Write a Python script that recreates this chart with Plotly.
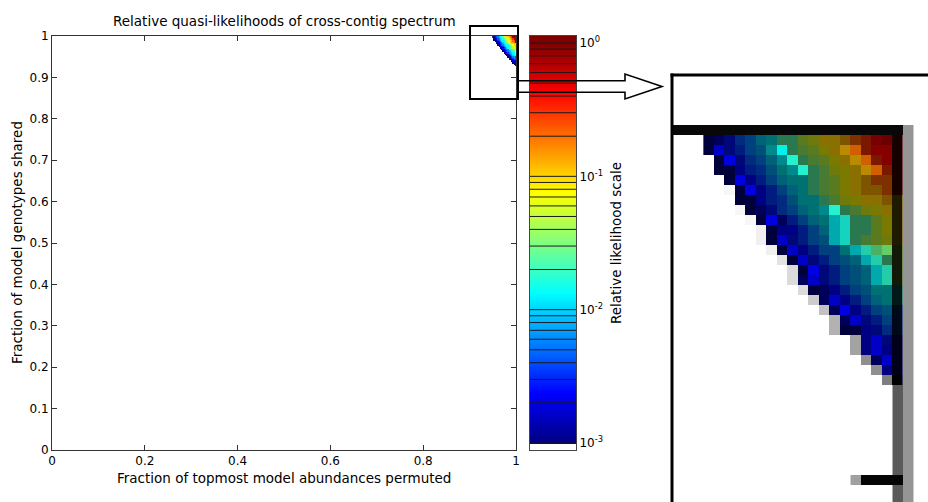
import numpy as np
import plotly.graph_objects as go

W, H = 928, 502

# ---------------- data ----------------
# centres of the likelihood grid cells
x_cells = [0.95005, 0.95275, 0.95545, 0.95815, 0.96085, 0.96355, 0.96625, 0.96895,
           0.97165, 0.97435, 0.97705, 0.97975, 0.98245, 0.98515, 0.98785, 0.99055,
           0.99325, 0.99595, 0.99865]
y_cells = [0.99855, 0.99565, 0.99275, 0.98985, 0.98695, 0.98405, 0.98115, 0.97825,
           0.97535, 0.97245, 0.96955, 0.96665, 0.96375, 0.96085, 0.95795, 0.95505,
           0.95215, 0.94925, 0.94635, 0.94345, 0.94055, 0.93765, 0.93475, 0.93185,
           0.92895]

# cell classes: log10 relative likelihood
LOG_LIKELIHOOD = {
    'a': -2.99, 'b': -2.99, 'B': -2.99, 'c': -2.58, 'd': -2.46, 'e': -2.37,
    'f': -2.25, 'g': -2.13, 'h': -2.01, 'i': -1.89, 'j': -1.62, 'k': -1.425,
    'l': -1.32, 'm': -1.20, 'n': -1.125, 'o': -0.984, 'p': -0.87, 'q': -0.66,
    'r': -0.525, 's': -0.15, 'u': 0.0, 'v': 0.0,
    'A': -2.79, 'C': -2.70, 'D': -1.89, 'E': -1.89, 'F': -1.86, 'G': -1.77,
    'H': -1.80, 'I': -1.74, 'J': -1.56, 'K': -1.50, 'L': -0.93, 'M': -0.72,
    'x': -0.15, 'y': -0.99, 'z': -1.35, 'w': -1.80, 'X': -2.34, 'Y': -2.85, 'Z': -2.99,
}
# darkening of each magnified pixel (contour lines / axis line / antialiasing)
PIXEL_SHADE = {
    'a': 0.55, 'b': 0.30, 'B': 0.0, 'c': 0.53, 'd': 0.50, 'e': 0.50, 'f': 0.50,
    'g': 0.53, 'h': 0.53, 'i': 0.55, 'j': 0.53, 'k': 0.52, 'l': 0.52, 'm': 0.52,
    'n': 0.52, 'o': 0.46, 'p': 0.50, 'q': 0.50, 'r': 0.52, 's': 0.25, 'u': 0.05,
    'v': 0.17, 'A': 0.0, 'C': 0.02, 'D': 0.45, 'E': 0.32, 'F': 0.05, 'G': 0.05,
    'H': 0.17, 'I': 0.20, 'J': 0.30, 'K': 0.20, 'L': 0.27, 'M': 0.18,
    'x': 0.88, 'y': 0.88, 'z': 0.90, 'w': 0.90, 'X': 0.90, 'Y': 0.85, 'Z': 1.0,
    '1': 0.03, '2': 0.06, '3': 0.11, '4': 0.14, '5': 0.20, '6': 0.24, '7': 0.30,
    '8': 0.36, '9': 0.44, '0': 0.50,
}
grid_rows = [
    "abcefhijjlmoopqruvx",
    "aAcdfgDFjklnoLMrssx",
    ".aCcefhDGjklnoLMrsx",
    ".aaBdegiDGjkmnoLMrx",
    "..aCBdfhiijklnopqqx",
    "..1aCBdfhijklnoppqx",
    "...aaBdegiijkmnoopy",
    "...1abcefhiDGjkmnoy",
    "....1aCbdfhiEHjjlny",
    ".....2aBBdfhEHjjlny",
    ".....2aAcdfgEHjklmy",
    "......2aABdffiEIJKz",
    ".......3aAcdfghEIjz",
    "........4aCcdfghEIz",
    "........4bAcdfghEIz",
    ".........4abBdfgiiw",
    "..........5bABdfhiw",
    "...........6bCBdfgX",
    "............7bAcdfX",
    "............7aaBceX",
    "..............8BAcY",
    "..............8BABY",
    "...............9bAY",
    "................9BY",
    ".................0Z",
]

x_ticks = [0, 0.2, 0.4, 0.6, 0.8, 1]
x_tick_labels = ["0", "0.2", "0.4", "0.6", "0.8", "1"]
y_ticks = [0, 0.1, 0.2, 0.3, 0.4, 0.5, 0.6, 0.7, 0.8, 0.9, 1]
y_tick_labels = ["0", "0.1", "0.2", "0.3", "0.4", "0.5", "0.6", "0.7", "0.8", "0.9", "1"]
cbar_levels = [0.001, 0.002, 0.003, 0.004, 0.005, 0.006, 0.007, 0.008, 0.009,
               0.01, 0.02, 0.03, 0.04, 0.05, 0.06, 0.07, 0.08, 0.09,
               0.1, 0.2, 0.3, 0.4, 0.5, 0.6, 0.7, 0.8, 0.9, 1.0]
cbar_ticks = [-3, -2, -1, 0]
cbar_tick_labels = ["10<sup>-3</sup>", "10<sup>-2</sup>", "10<sup>-1</sup>", "10<sup>0</sup>"]

title_text = "Relative quasi-likelihoods of cross-contig spectrum"
xlabel_text = "Fraction of topmost model abundances permuted"
ylabel_text = "Fraction of model genotypes shared"
cbar_label_text = "Relative likelihood scale"

# ---------------- geometry / style ----------------
MAIN = dict(l=52, t=36, r=516, b=450)
CB = dict(l=530, t=36, r=576, b=450)
INSET = dict(l=672, t=75, r=928, b=502)
INSET_XR = [0.9406, 1.00643]
INSET_YR = [0.89362, 1.01739]
DX, DY = 0.0027, 0.0029
ZLO, ZHI = -3.0525, 0.0525
ZOOM_BOX = (0.9009, 0.8478, 1.0043, 1.0242)
FONT = "DejaVu Sans"
AX_COL = "#333333"


def px(x):
    return x / W


def py(y):
    return 1 - y / H


def main_to_paper(x, y):
    return px(MAIN['l'] + x * (MAIN['r'] - MAIN['l'])), py(MAIN['b'] - y * (MAIN['b'] - MAIN['t']))


# MATLAB-like jet, mapped on the [ZLO, ZHI] range, white below 1e-3
jet = [(0.0, (0, 0, 128)), (0.125, (0, 0, 255)), (0.375, (0, 255, 255)),
       (0.625, (255, 255, 0)), (0.875, (255, 0, 0)), (1.0, (128, 0, 0))]


def u(z):
    return (z - ZLO) / (ZHI - ZLO)


cscale = [[0, 'white'], [u(-3.006), 'white'], [u(-3.006), 'rgb(0,0,128)']]
for t, (r, g, b) in jet:
    cscale.append([u(-3 + 3 * t), f'rgb({r},{g},{b})'])
cscale.append([1, 'rgb(128,0,0)'])

# matrices (ascending y)
z_rows, s_rows = [], []
for row in grid_rows:
    z_rows.append([LOG_LIKELIHOOD[ch] if ch in LOG_LIKELIHOOD else np.nan for ch in row])
    s_rows.append([PIXEL_SHADE.get(ch, np.nan) for ch in row])
z_asc = z_rows[::-1]
s_asc = s_rows[::-1]
y_asc = y_cells[::-1]

fig = go.Figure()

# main heatmap
fig.add_trace(go.Heatmap(x=x_cells, y=y_asc, z=z_asc, colorscale=cscale, zmin=ZLO, zmax=ZHI,
                         showscale=False, hoverinfo='skip', xaxis='x', yaxis='y'))
# magnified inset
fig.add_trace(go.Heatmap(x=x_cells, y=y_asc, z=z_asc, colorscale=cscale, zmin=ZLO, zmax=ZHI,
                         showscale=False, hoverinfo='skip', xaxis='x2', yaxis='y2'))
fig.add_trace(go.Heatmap(x=x_cells, y=y_asc, z=s_asc,
                         colorscale=[[0, 'rgba(0,0,0,0)'], [1, 'rgba(0,0,0,1)']],
                         zmin=0, zmax=1, showscale=False, hoverinfo='skip', xaxis='x2', yaxis='y2'))

# colour bar as its own small axes
cb_y = np.linspace(ZLO, ZHI, 622)
fig.add_trace(go.Heatmap(x=[0], y=cb_y, z=[[v] for v in cb_y], colorscale=cscale, zmin=ZLO, zmax=ZHI,
                         showscale=False, hoverinfo='skip', xaxis='x3', yaxis='y3'))
lx, ly = [], []
for lev in cbar_levels:
    lx += [-0.5, 0.5, None]
    ly += [np.log10(lev), np.log10(lev), None]
fig.add_trace(go.Scatter(x=lx, y=ly, mode='lines', line=dict(color='#1a1a1a', width=1),
                         hoverinfo='skip', xaxis='x3', yaxis='y3'))

tickfont = dict(family=FONT, size=12, color='black')
hidden = dict(showticklabels=False, ticks='', showgrid=False, zeroline=False, automargin=False)
fig.update_layout(
    template='none',
    width=W, height=H, margin=dict(l=0, r=0, t=0, b=0, pad=0, autoexpand=False),
    paper_bgcolor='white', plot_bgcolor='white', showlegend=False,
    xaxis=dict(domain=[px(MAIN['l']), px(MAIN['r'])], range=[0, 1], anchor='y',
               tickvals=x_ticks, ticktext=x_tick_labels, ticks='inside', ticklen=5,
               tickcolor=AX_COL, mirror='allticks', showline=True, linecolor=AX_COL,
               linewidth=1, showgrid=False, zeroline=False, tickfont=tickfont, automargin=False),
    yaxis=dict(domain=[py(MAIN['b']), py(MAIN['t'])], range=[0, 1], anchor='x',
               tickvals=y_ticks, ticktext=y_tick_labels, ticks='inside', ticklen=5,
               tickcolor=AX_COL, mirror='allticks', showline=True, linecolor=AX_COL,
               linewidth=1, showgrid=False, zeroline=False, tickfont=tickfont, automargin=False),
    xaxis2=dict(domain=[px(INSET['l']), px(INSET['r'])], range=INSET_XR, anchor='y2',
                showline=False, **hidden),
    yaxis2=dict(domain=[py(INSET['b']), py(INSET['t'])], range=INSET_YR, anchor='x2',
                showline=False, **hidden),
    xaxis3=dict(domain=[px(CB['l']), px(CB['r'])], range=[-0.5, 0.5], anchor='y3',
                showline=True, mirror=True, linecolor='#444444', linewidth=1, **hidden),
    yaxis3=dict(domain=[py(CB['b']), py(CB['t'])], range=[ZLO, ZHI], anchor='x3', side='right',
                tickvals=cbar_ticks, ticktext=cbar_tick_labels, ticks='', showgrid=False,
                zeroline=False, showline=True, mirror=True, linecolor='#444444', linewidth=1,
                tickfont=tickfont, automargin=False),
)

shapes = []
# zoom rectangle on the main axes
x0, y0 = main_to_paper(ZOOM_BOX[0], ZOOM_BOX[1])
x1, y1 = main_to_paper(ZOOM_BOX[2], ZOOM_BOX[3])
shapes.append(dict(type='rect', xref='paper', yref='paper', x0=x0, y0=y0, x1=x1, y1=y1,
                   line=dict(color='black', width=2), fillcolor='rgba(0,0,0,0)'))
# arrow outline
pts = [(518, 80.7), (625, 80.7), (625, 74), (662, 86.5), (625, 99), (625, 92.3), (518, 92.3)]
path = "M " + " L ".join(f"{px(a):.5f},{py(b):.5f}" for a, b in pts)
shapes.append(dict(type='path', xref='paper', yref='paper', path=path,
                   line=dict(color='black', width=1.6)))
# magnified axis lines / tick inside the inset
shapes += [
    dict(type='rect', xref='x2', yref='y2', x0=INSET_XR[0], x1=1.0, y0=1.0, y1=1.0 + DY,
         line=dict(width=0), fillcolor='#080808'),
    dict(type='rect', xref='x2', yref='y2', x0=1.0, x1=1.0 + DX, y0=INSET_YR[0], y1=1.0 + DY,
         line=dict(width=0), fillcolor='#959595'),
    dict(type='rect', xref='x2', yref='y2', x0=1.0 - DX, x1=1.0, y0=INSET_YR[0],
         y1=1.0 - len(grid_rows) * DY, line=dict(width=0), fillcolor='#5a5a5a'),
    dict(type='rect', xref='x2', yref='y2', x0=1.0 - 4 * DX, x1=1.0, y0=0.9 - DY / 2,
         y1=0.9 + DY / 2, line=dict(width=0), fillcolor='#050505'),
    dict(type='rect', xref='x2', yref='y2', x0=1.0 - 5 * DX, x1=1.0 - 4 * DX, y0=0.9 - DY / 2,
         y1=0.9 + DY / 2, line=dict(width=0), fillcolor='#a0a0a0'),
]
# inset frame (left and top)
shapes += [
    dict(type='line', xref='paper', yref='paper', x0=px(INSET['l']), x1=px(INSET['l']),
         y0=0, y1=py(INSET['t'] - 1.5), line=dict(color='black', width=3)),
    dict(type='line', xref='paper', yref='paper', x0=px(INSET['l'] - 1.5), x1=1,
         y0=py(INSET['t']), y1=py(INSET['t']), line=dict(color='black', width=3)),
]
fig.update_layout(shapes=shapes)

txt = dict(family=FONT, size=13.5, color='black')
fig.update_layout(annotations=[
    dict(text=title_text, x=px(284), y=py(21), xref='paper', yref='paper', showarrow=False,
         xanchor='center', yanchor='middle', font=txt),
    dict(text=xlabel_text, x=px(284), y=py(478), xref='paper', yref='paper', showarrow=False,
         xanchor='center', yanchor='middle', font=txt),
    dict(text=ylabel_text, x=px(17), y=py(243), xref='paper', yref='paper', showarrow=False,
         xanchor='center', yanchor='middle', textangle=-90, font=txt),
    dict(text=cbar_label_text, x=px(616), y=py(243), xref='paper', yref='paper', showarrow=False,
         xanchor='center', yanchor='middle', textangle=-90, font=txt),
])

fig.write_html("out.html", config={'displayModeBar': False},
               post_script="document.body.style.margin='0px';"
                           "document.body.style.overflow='hidden';")
